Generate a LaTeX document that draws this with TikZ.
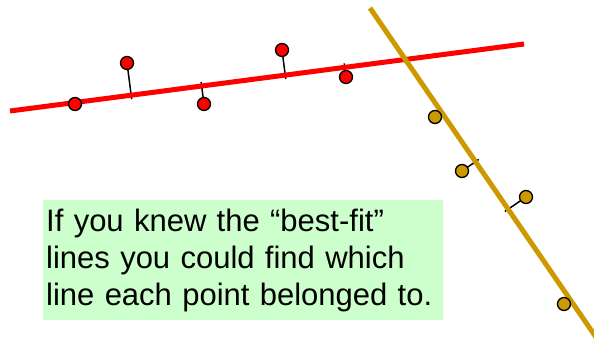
\documentclass[tikz,border=0pt]{standalone}
\usepackage{fontspec}
\setmainfont{Liberation Sans}
\usetikzlibrary{calc}
\definecolor{fitred}{HTML}{FF0000}
\definecolor{fitgold}{HTML}{CC9900}
\definecolor{notegreen}{HTML}{CCFFCC}

\begin{document}
\begin{tikzpicture}[x=1pt,y=-1pt,
    fitline/.style={line width=5pt},
    pt/.style={circle, draw=black, line width=1.3pt, inner sep=0pt, minimum size=13pt},
    resid/.style={line width=1.5pt, shorten >=-4pt}]
  \useasboundingbox (0,0) rectangle (594,345);
  % line ends
  \coordinate (ra) at (10,111);
  \coordinate (rb) at (524,44);
  \coordinate (ga) at (370,8);
  \coordinate (gb) at (600,343);
  % data points
  \coordinate (r1) at (75,104);
  \coordinate (r2) at (127,63);
  \coordinate (r3) at (204,104);
  \coordinate (r4) at (282,50);
  \coordinate (r5) at (346,77);
  \coordinate (g1) at (435,117);
  \coordinate (g2) at (462,171);
  \coordinate (g3) at (526,197);
  \coordinate (g4) at (564,304);
  % residuals
  \foreach \p in {r2,r3,r4,r5}
    \draw[resid] (\p) -- ($(ra)!(\p)!(rb)$);
  \foreach \p in {g2,g3}
    \draw[resid] (\p) -- ($(ga)!(\p)!(gb)$);
  % best-fit lines
  \draw[fitline, fitred] (ra) -- (rb);
  \draw[fitline, fitgold] (ga) -- (gb);
  \foreach \p in {r1,r2,r3,r4,r5}
    \node[pt, fill=fitred] (n\p) at (\p) {};
  \foreach \p in {g1,g2,g3,g4}
    \node[pt, fill=fitgold] (n\p) at (\p) {};
  % note
  \node[fill=notegreen, anchor=north west, inner sep=0pt, minimum width=400pt,
        minimum height=120pt, text width=394pt, align=left,
        font=\fontsize{31}{37}\selectfont] (note) at (43,200) {%
    If you knew the “best-fit”\\
    lines you could find which\\
    line each point belonged to.};
\end{tikzpicture}
\end{document}
